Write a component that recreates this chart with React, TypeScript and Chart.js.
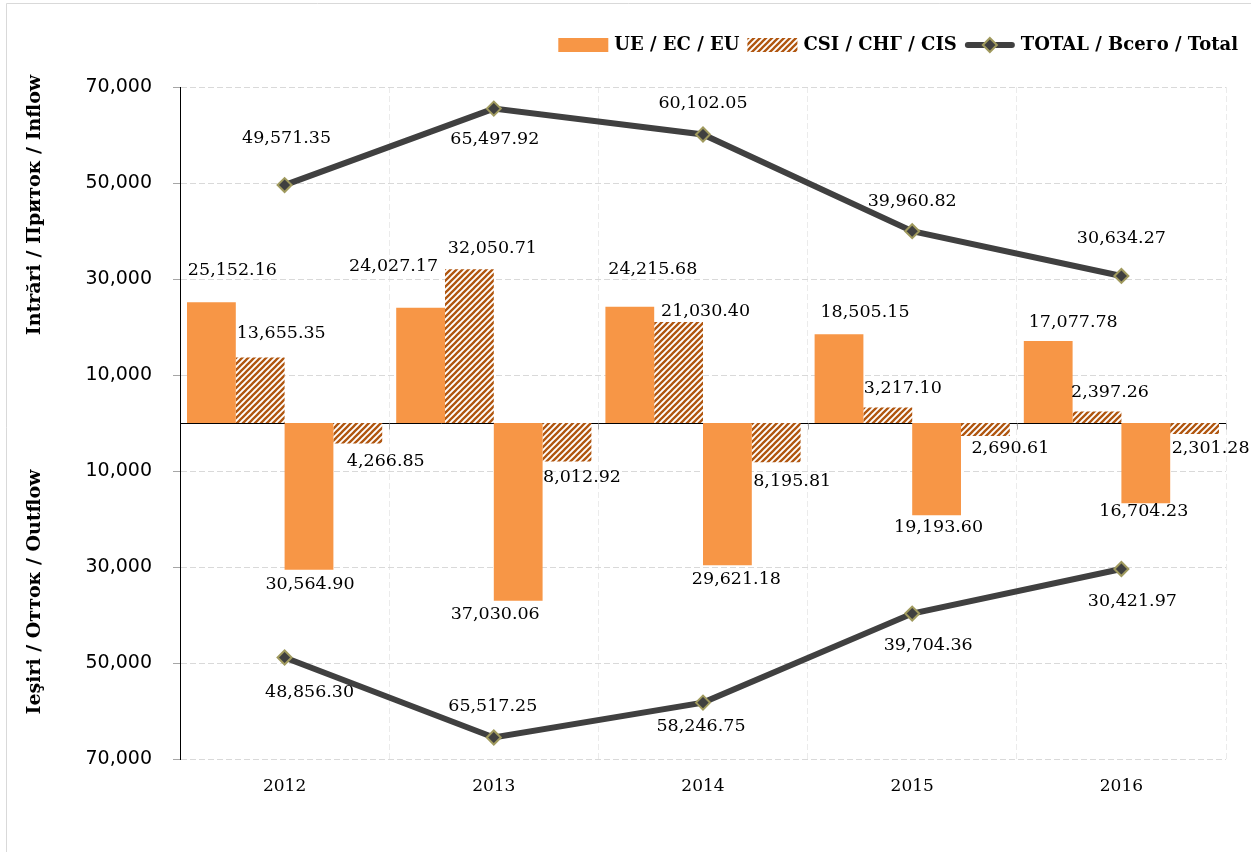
import React, { useEffect, useRef } from 'react';
import { Chart, registerables } from 'chart.js';

Chart.register(...registerables);

// ---- data ----
const years = ['2012', '2013', '2014', '2015', '2016'];
const inflowEU = [25152.16, 24027.17, 24215.68, 18505.15, 17077.78];
const inflowCIS = [13655.35, 32050.71, 21030.4, 3217.1, 2397.26];
const outflowEU = [-30564.9, -37030.06, -29621.18, -19193.6, -16704.23];
const outflowCIS = [-4266.85, -8012.92, -8195.81, -2690.61, -2301.28];
const totalIn = [49571.35, 65497.92, 60102.05, 39960.82, 30634.27];
const totalOut = [-48856.3, -65517.25, -58246.75, -39704.36, -30421.97];
const yTickValues = [-70000, -50000, -30000, -10000, 10000, 30000, 50000, 70000];
const legendLabels = ['UE / EC / EU', 'CSI / СНГ / CIS', 'TOTAL / Всего / Total'];
const axisTitleIn = 'Intrări / Приток / Inflow';
const axisTitleOut = 'Ieşiri / Отток / Outflow';

// ---- label placement (pixel offsets from each mark's end), style only ----
const labelOffsets: number[][][] = [
  [[21, -32], [-27, -41], [23, -37], [26, -22], [25, -19]],
  [[21, -24], [23, -21], [27, -11], [15, -19], [13, -19]],
  [[1, 15], [-23, 14], [9, 14], [2, 12], [-2, 8]],
  [[28, 18], [15, 16], [16, 19], [25, 13], [16, 14]],
  [[2, -47], [1, 31], [0, -31], [0, -30], [0, -38]],
  [[25, 35], [-1, -31], [-2, 24], [16, 32], [11, 32]],
];

const ORANGE = '#F79646';
const HATCH = '#B0560F';
const LINE = '#404040';
const MARKER_EDGE = '#A09A5E';
const SERIF = '"DejaVu Serif", serif';
const SANS = '"DejaVu Sans", sans-serif';

function makeHatch(): CanvasPattern | string {
  const c = document.createElement('canvas');
  c.width = 6;
  c.height = 6;
  const g = c.getContext('2d');
  if (!g) return HATCH;
  g.fillStyle = '#ffffff';
  g.fillRect(0, 0, 6, 6);
  g.strokeStyle = HATCH;
  g.lineWidth = 2.3;
  g.beginPath();
  g.moveTo(-1, 7); g.lineTo(7, -1);
  g.moveTo(-4, 4); g.lineTo(4, -4);
  g.moveTo(2, 10); g.lineTo(10, 2);
  g.stroke();
  const p = g.createPattern(c, 'repeat');
  return p || HATCH;
}

const fmt = (v: number) =>
  Math.abs(v).toLocaleString('en-US', { minimumFractionDigits: 2, maximumFractionDigits: 2 });

export default function App() {
  const ref = useRef<HTMLCanvasElement | null>(null);

  useEffect(() => {
    document.body.style.margin = '0';
    const canvas = ref.current;
    if (!canvas) return;
    const hatch = makeHatch();

    const overlay = {
      id: 'overlay',
      beforeDraw(chart: any) {
        const ctx = chart.ctx;
        ctx.save();
        ctx.fillStyle = '#ffffff';
        ctx.fillRect(0, 0, chart.width, chart.height);
        ctx.strokeStyle = '#d9d9d9';
        ctx.lineWidth = 1;
        ctx.beginPath();
        ctx.moveTo(6.5, chart.height);
        ctx.lineTo(6.5, 3.5);
        ctx.lineTo(chart.width, 3.5);
        ctx.stroke();
        ctx.restore();
      },
      beforeDatasetsDraw(chart: any) {
        const ctx = chart.ctx;
        const { left, right } = chart.chartArea;
        const y0 = Math.round(chart.scales.y.getPixelForValue(0)) + 0.5;
        ctx.save();
        ctx.strokeStyle = '#000';
        ctx.lineWidth = 1;
        ctx.beginPath();
        ctx.moveTo(left, y0);
        ctx.lineTo(right, y0);
        ctx.stroke();
        ctx.strokeStyle = '#a6a6a6';
        const n = years.length;
        const w = (right - left) / n;
        ctx.beginPath();
        for (let i = 1; i <= n; i++) {
          const x = Math.round(left + i * w) + 0.5;
          ctx.moveTo(x, y0);
          ctx.lineTo(x, y0 + 6);
        }
        ctx.stroke();
        ctx.restore();
      },
      afterDatasetsDraw(chart: any) {
        const ctx = chart.ctx;
        ctx.save();
        ctx.font = `17.5px ${SERIF}`;
        ctx.fillStyle = '#000';
        ctx.textAlign = 'center';
        ctx.textBaseline = 'middle';
        chart.data.datasets.forEach((ds: any, di: number) => {
          const meta = chart.getDatasetMeta(di);
          meta.data.forEach((el: any, i: number) => {
            const off = labelOffsets[di][i];
            ctx.fillText(fmt(ds.data[i]), el.x + off[0], el.y + off[1]);
          });
        });
        ctx.restore();
      },
      afterDraw(chart: any) {
        const ctx = chart.ctx;
        ctx.save();
        // axis titles
        ctx.font = `bold 19px ${SERIF}`;
        ctx.fillStyle = '#000';
        ctx.textAlign = 'center';
        ctx.textBaseline = 'middle';
        ctx.translate(35, 205);
        ctx.rotate(-Math.PI / 2);
        ctx.fillText(axisTitleIn, 0, 0);
        ctx.rotate(Math.PI / 2);
        ctx.translate(0, 592 - 205);
        ctx.rotate(-Math.PI / 2);
        ctx.fillText(axisTitleOut, 0, 0);
        ctx.restore();

        // legend
        ctx.save();
        ctx.font = `bold 18px ${SERIF}`;
        ctx.textBaseline = 'middle';
        ctx.textAlign = 'left';
        const cy = 45;
        const symW = 50;
        let x = 1238;
        const xs: number[] = [];
        for (let k = legendLabels.length - 1; k >= 0; k--) {
          const tw = ctx.measureText(legendLabels[k]).width;
          x -= tw;
          xs[k] = x;
          x -= symW + 6;
          if (k > 0) x -= 8;
        }
        legendLabels.forEach((lab, k) => {
          const tx = xs[k];
          const sx = tx - 6 - symW;
          if (k === 0) {
            ctx.fillStyle = ORANGE;
            ctx.fillRect(sx, cy - 7, symW, 14);
          } else if (k === 1) {
            ctx.fillStyle = hatch as any;
            ctx.fillRect(sx, cy - 7, symW, 14);
          } else {
            ctx.strokeStyle = LINE;
            ctx.lineWidth = 6;
            ctx.lineCap = 'round';
            ctx.beginPath();
            ctx.moveTo(sx + 3, cy);
            ctx.lineTo(sx + symW - 3, cy);
            ctx.stroke();
            const mx = sx + symW / 2;
            ctx.beginPath();
            ctx.moveTo(mx, cy - 7);
            ctx.lineTo(mx + 7, cy);
            ctx.lineTo(mx, cy + 7);
            ctx.lineTo(mx - 7, cy);
            ctx.closePath();
            ctx.fillStyle = LINE;
            ctx.fill();
            ctx.strokeStyle = MARKER_EDGE;
            ctx.lineWidth = 2;
            ctx.stroke();
          }
          ctx.fillStyle = '#000';
          ctx.fillText(lab, tx, cy);
        });
        ctx.restore();
      },
    };

    const chart = new Chart(canvas, {
      type: 'bar',
      data: {
        labels: years,
        datasets: [
          { type: 'bar', label: legendLabels[0], data: inflowEU, backgroundColor: ORANGE, order: 2 },
          { type: 'bar', label: legendLabels[1], data: inflowCIS, backgroundColor: hatch as any, order: 2 },
          { type: 'bar', label: legendLabels[0], data: outflowEU, backgroundColor: ORANGE, order: 2 },
          { type: 'bar', label: legendLabels[1], data: outflowCIS, backgroundColor: hatch as any, order: 2 },
          {
            type: 'line', label: legendLabels[2], data: totalIn, borderColor: LINE, borderWidth: 6,
            pointStyle: 'rectRot', pointRadius: 7, pointBackgroundColor: LINE, pointBorderColor: MARKER_EDGE,
            pointBorderWidth: 2, tension: 0, order: 0,
          },
          {
            type: 'line', label: legendLabels[2], data: totalOut, borderColor: LINE, borderWidth: 6,
            pointStyle: 'rectRot', pointRadius: 7, pointBackgroundColor: LINE, pointBorderColor: MARKER_EDGE,
            pointBorderWidth: 2, tension: 0, order: 0,
          },
        ] as any,
      },
      options: {
        responsive: false,
        animation: false,
        datasets: { bar: { categoryPercentage: 0.933, barPercentage: 1 } } as any,
        layout: { padding: { top: 87, right: 25, left: 0, bottom: 0 } },
        plugins: { legend: { display: false }, tooltip: { enabled: false } },
        scales: {
          x: {
            type: 'category',
            offset: true,
            grid: { offset: true, color: '#ebebeb', drawTicks: false, lineWidth: 1 },
            border: { display: false, dash: [6, 3] },
            ticks: { color: '#000', font: { family: SERIF, size: 17 }, padding: 17 },
            afterFit: (s: any) => { s.height = 93; },
          },
          y: {
            min: -70000,
            max: 70000,
            afterBuildTicks: (s: any) => { s.ticks = yTickValues.map((v) => ({ value: v })); },
            grid: { color: '#d9d9d9', tickColor: '#a6a6a6', tickLength: 7, lineWidth: 1 },
            border: { display: true, color: '#000', width: 1, dash: [6, 3] },
            ticks: {
              color: '#000',
              font: { family: SANS, size: 19 },
              padding: 21,
              callback: (v: any) => Math.abs(Number(v)).toLocaleString('en-US'),
            },
            afterFit: (s: any) => { s.width = 180; },
          },
        } as any,
      },
      plugins: [overlay],
    });
    return () => chart.destroy();
  }, []);

  return (
    <canvas ref={ref} width={1251} height={852} style={{ display: 'block', width: 1251, height: 852 }} />
  );
}
